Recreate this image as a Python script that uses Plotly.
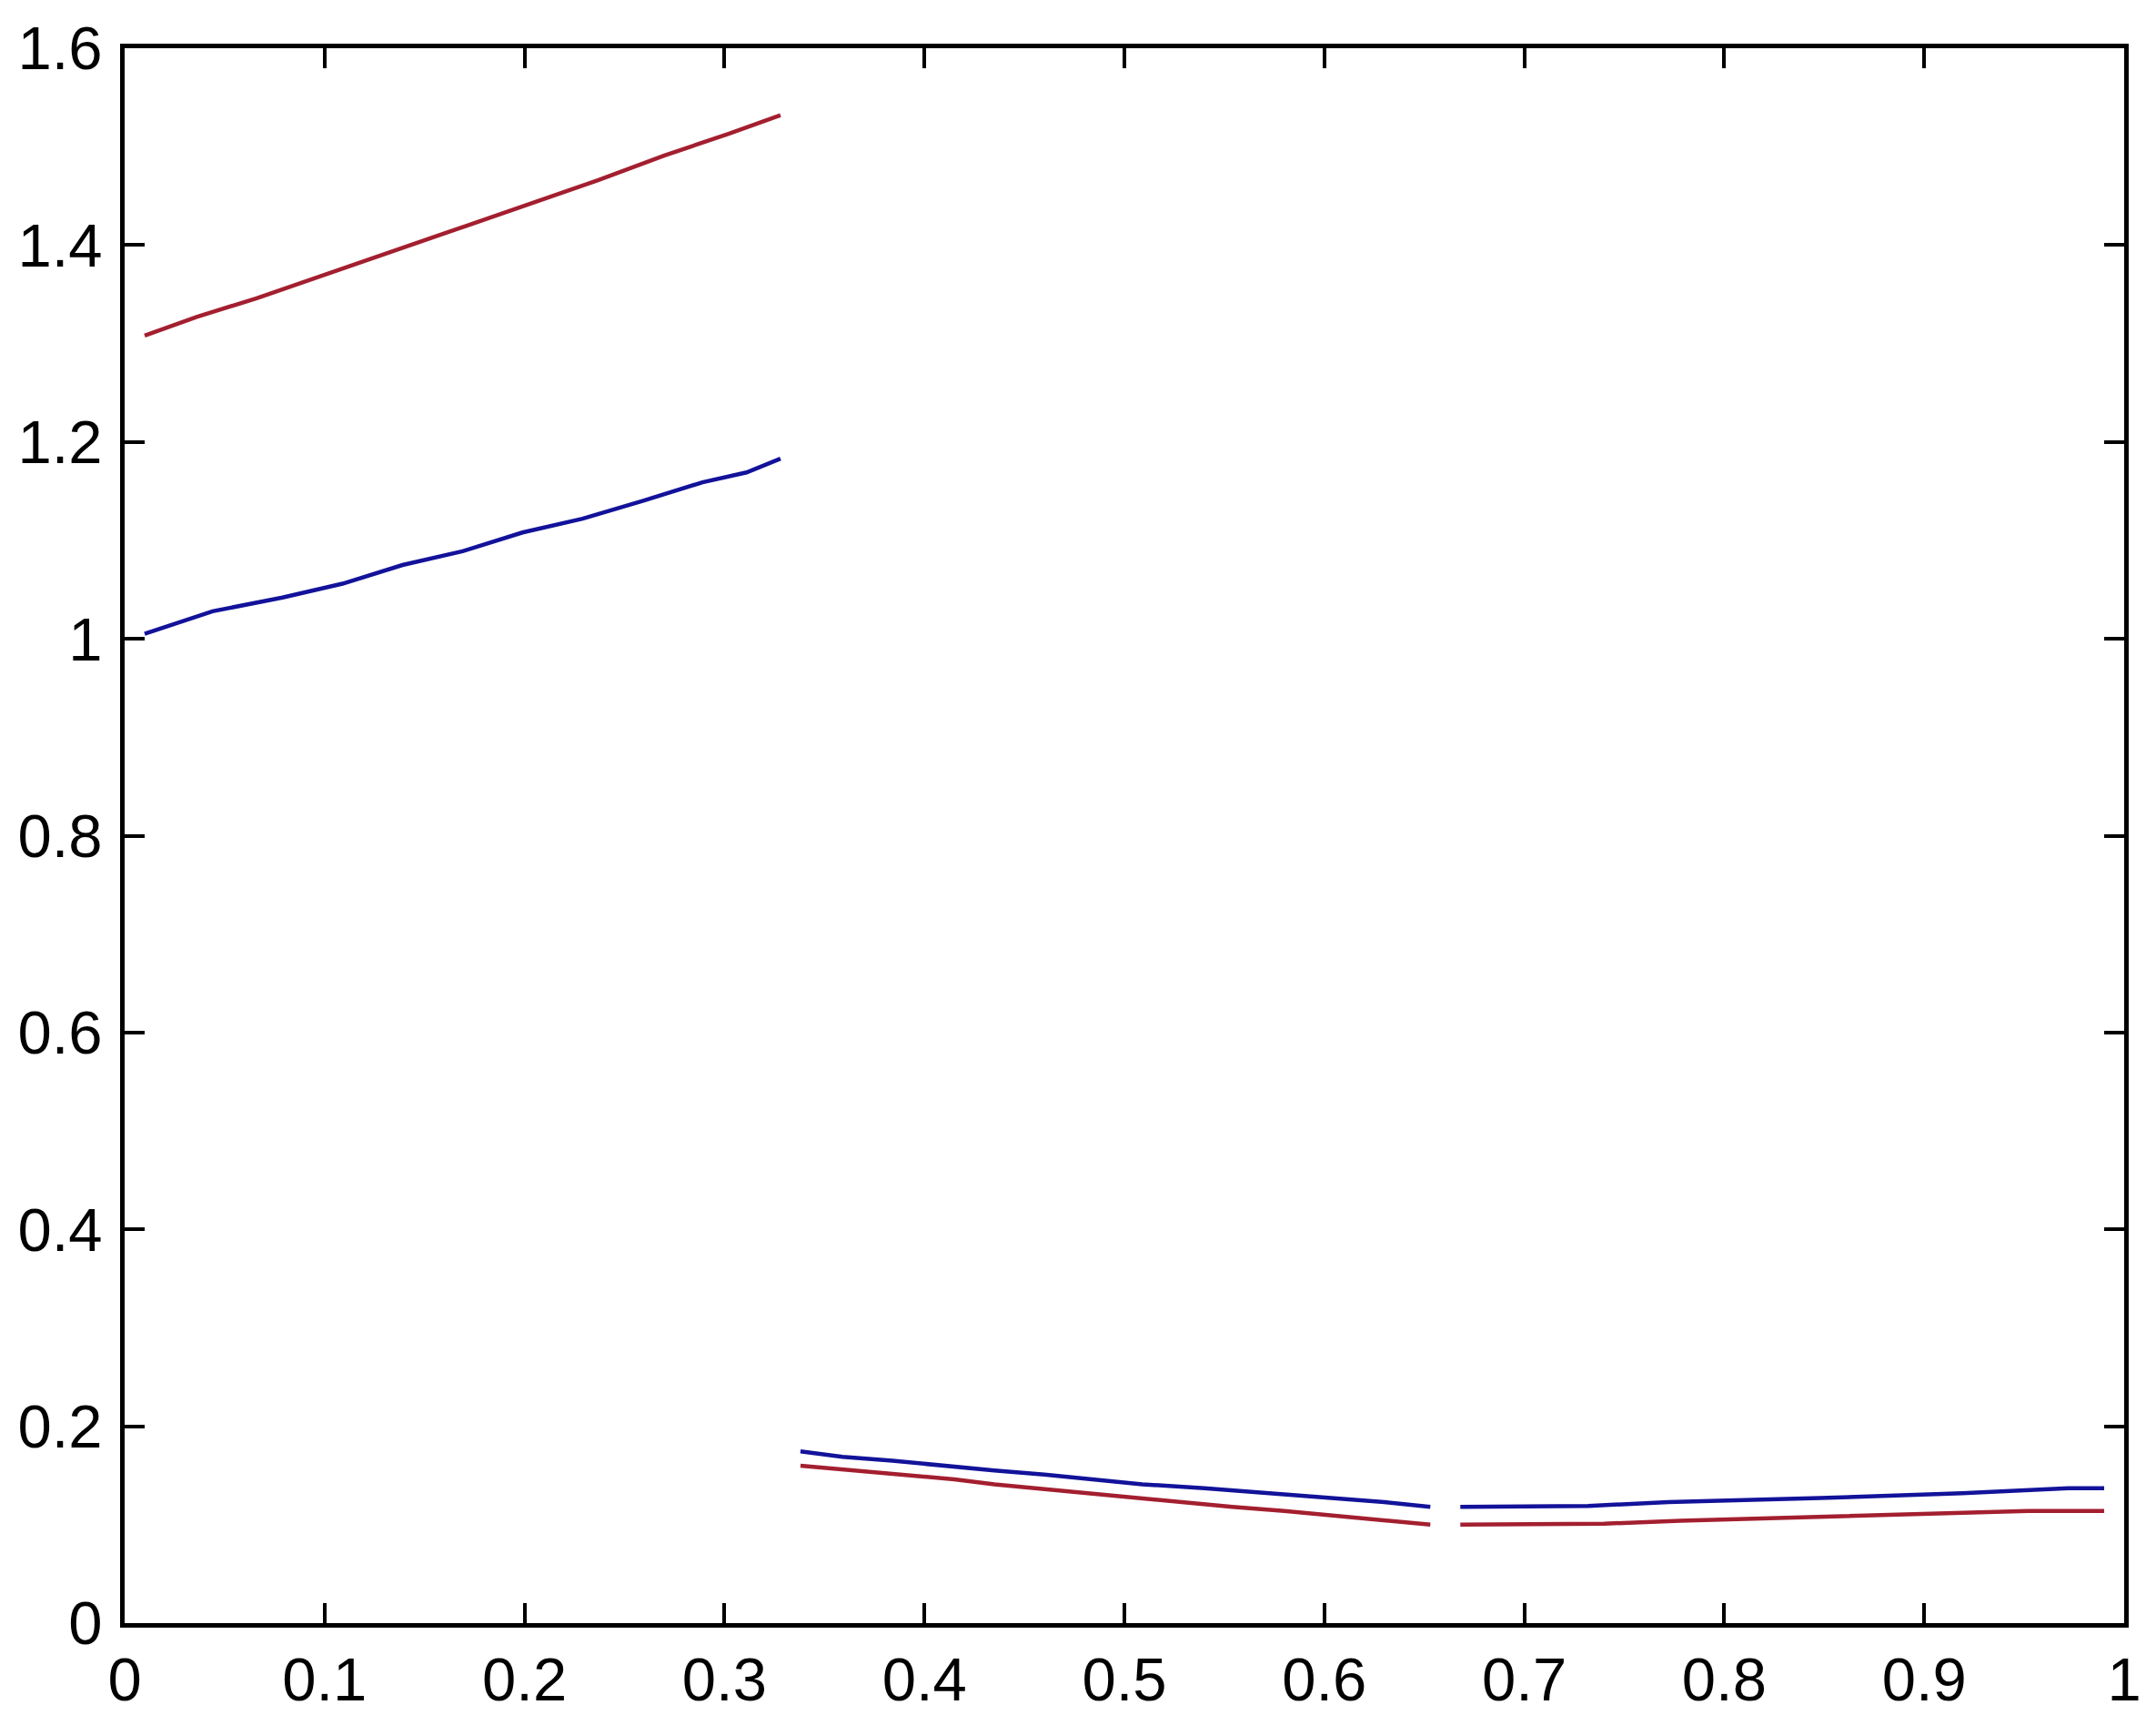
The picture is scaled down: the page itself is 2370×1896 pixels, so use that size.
import plotly.graph_objects as go

# curves; None marks the breaks
x_red = [0.010, 0.036, 0.066, 0.100, 0.139, 0.173, 0.207, 0.237, 0.270, 0.302, 0.328,
         None,
         0.338, 0.364, 0.390, 0.415, 0.435, 0.455, 0.480, 0.505, 0.529, 0.554, 0.580, 0.605, 0.630, 0.653,
         None,
         0.668, 0.700, 0.740, 0.778, 0.870, 0.952, 0.990]
y_red = [1.308, 1.327, 1.346, 1.370, 1.397, 1.421, 1.445, 1.466, 1.491, 1.513, 1.532,
         None,
         0.160, 0.155, 0.151, 0.146, 0.141, 0.137, 0.132, 0.128, 0.123, 0.118, 0.114, 0.109, 0.104, 0.100,
         None,
         0.100, 0.100, 0.101, 0.104, 0.109, 0.114, 0.114]

x_blue = [0.010, 0.044, 0.079, 0.109, 0.139, 0.169, 0.199, 0.229, 0.259, 0.289, 0.311, 0.328,
          None,
          0.338, 0.359, 0.384, 0.409, 0.435, 0.460, 0.486, 0.509, 0.540, 0.570, 0.600, 0.630, 0.653,
          None,
          0.668, 0.700, 0.732, 0.772, 0.848, 0.919, 0.972, 0.990]
y_blue = [1.005, 1.028, 1.042, 1.056, 1.075, 1.089, 1.108, 1.122, 1.140, 1.159, 1.169, 1.183,
          None,
          0.1745, 0.169, 0.165, 0.160, 0.155, 0.151, 0.146, 0.141, 0.137, 0.132, 0.128, 0.123, 0.118,
          None,
          0.118, 0.118, 0.119, 0.123, 0.127, 0.132, 0.137, 0.137]

x_ticks = [0, 0.1, 0.2, 0.3, 0.4, 0.5, 0.6, 0.7, 0.8, 0.9, 1]
x_labels = ['0', '0.1', '0.2', '0.3', '0.4', '0.5', '0.6', '0.7', '0.8', '0.9', '1']
y_ticks = [0, 0.2, 0.4, 0.6, 0.8, 1, 1.2, 1.4, 1.6]
y_labels = ['0', '0.2', '0.4', '0.6', '0.8', '1', '1.2', '1.4', '1.6']

fig = go.Figure()
fig.add_trace(go.Scatter(x=x_red, y=y_red, mode='lines',
                         line=dict(color='#a31f2f', width=4.5), connectgaps=False))
fig.add_trace(go.Scatter(x=x_blue, y=y_blue, mode='lines',
                         line=dict(color='#12129a', width=4.5), connectgaps=False))

axis_style = dict(showgrid=False, zeroline=False, showline=True, linecolor='black',
                  linewidth=5, mirror='ticks', ticks='inside', ticklen=22, tickwidth=4,
                  tickcolor='black', automargin=False)

fig.update_xaxes(range=[0, 1], tickvals=x_ticks, ticktext=x_labels,
                 ticklabelstandoff=0, **axis_style)
fig.update_yaxes(range=[0, 1.6], tickvals=y_ticks, ticktext=y_labels,
                 ticklabelstandoff=6, **axis_style)

# page body has an 8px margin, so the figure is a little smaller than the window
fig.update_layout(
    width=2362, height=1888,
    margin=dict(l=129, r=35, t=45, b=112),
    plot_bgcolor='white', paper_bgcolor='white',
    showlegend=False,
    font=dict(family='Liberation Sans', size=67, color='black')
)
fig.write_html("out.html")
